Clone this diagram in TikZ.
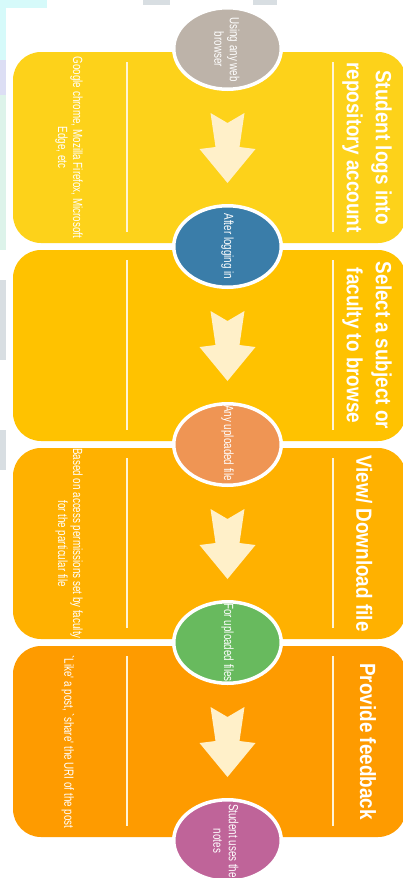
\documentclass[tikz,border=0pt]{standalone}
\usepackage{fontspec}
\setmainfont{Liberation Sans}
\newfontfamily\titlefont[FakeStretch=0.86]{Liberation Sans}
\newfontfamily\smallfont[FakeStretch=0.74]{Liberation Sans}
\usetikzlibrary{shapes.geometric}
\definecolor{boxA}{HTML}{FDD21A}
\definecolor{boxB}{HTML}{FFC200}
\definecolor{boxC}{HTML}{FFB100}
\definecolor{boxD}{HTML}{FE9B00}
\definecolor{cirA}{HTML}{BDB3A9}
\definecolor{cirB}{HTML}{3A7DA9}
\definecolor{cirC}{HTML}{EF9554}
\definecolor{cirD}{HTML}{68BA5E}
\definecolor{cirE}{HTML}{BF6499}
\definecolor{arrowcol}{HTML}{FFF0C9}
\definecolor{linecol}{HTML}{FFF4D6}
\definecolor{cyanbg}{HTML}{D6FAFA}
\definecolor{lavbg}{HTML}{DCDEF4}
\definecolor{greenbg}{HTML}{DDF3EA}
\definecolor{greybg}{HTML}{D8DEE2}
\tikzset{
  stepbox/.style={rectangle, rounded corners=28pt, minimum width=393pt, minimum height=191pt, inner sep=0pt, draw=none},
  bubble/.style={ellipse, draw=white, line width=3.5pt, minimum width=107.5pt, minimum height=81.5pt, inner sep=0pt},
  titletext/.style={text=white, rotate=-90, align=center, inner sep=0pt, font=\titlefont\bfseries\fontsize{22}{29}\selectfont},
  desctext/.style={text=white, rotate=-90, align=center, inner sep=0pt, font=\smallfont\fontsize{13.3}{15}\selectfont},
  bubbletext/.style={text=white, rotate=-90, align=center, inner sep=0pt, font=\smallfont\fontsize{13.3}{15.5}\selectfont},
  divline/.style={draw=linecol, line width=1.5pt},
  chevron/.style={fill=arrowcol, draw=none}
}
\begin{document}
\begin{tikzpicture}[x=1pt, y=-1pt]
\useasboundingbox (0,0) rectangle (403,878);
% background
\fill[white] (0,0) rectangle (403,878);
\fill[cyanbg] (0,0) rectangle (47,8);
\fill[cyanbg] (0,0) rectangle (6,60);
\fill[lavbg] (0,60) rectangle (6,95);
\fill[greenbg] (0,95) rectangle (6,250);
\fill[greybg] (0,280) rectangle (6,360);
\fill[greybg] (0,430) rectangle (6,470);
\fill[greybg] (143,0) rectangle (170,5);
\fill[greybg] (253,0) rectangle (277,5);
% boxes
\node[stepbox, fill=boxA] (b1) at (209.5,147.5) {};
\node[stepbox, fill=boxB] (b2) at (209.5,345.5) {};
\node[stepbox, fill=boxC] (b3) at (209.5,543.5) {};
\node[stepbox, fill=boxD] (b4) at (209.5,741.5) {};
% divider lines and arrows
\foreach \T in {52,250,448,646}{
  \draw[divline] (127,{\T+10}) -- (127,{\T+180});
  \draw[divline] (333,{\T+10}) -- (333,{\T+180});
  \fill[chevron] (210.5,{\T+61}) -- (227.5,{\T+71}) -- (244.5,{\T+61}) -- (239.5,{\T+95}) -- (255.5,{\T+97}) -- (227.5,{\T+131}) -- (199.5,{\T+97}) -- (215.5,{\T+95}) -- cycle;
}
% bubbles
\node[bubble, fill=cirA] (c1) at (227.5,48.5) {};
\node[bubble, fill=cirB] (c2) at (227.5,246.5) {};
\node[bubble, fill=cirC] (c3) at (227.5,444.5) {};
\node[bubble, fill=cirD] (c4) at (227.5,642.5) {};
\node[bubble, fill=cirE] (c5) at (227.5,840.5) {};
% bubble texts
\node[bubbletext] (c1t) at (227,49.5) {Using any web\\browser};
\node[bubbletext] (c2t) at (227.5,246.5) {After logging in};
\node[bubbletext] (c3t) at (227.5,443) {Any uploaded file};
\node[bubbletext] (c4t) at (227.5,642.5) {For uploaded files};
\node[bubbletext] (c5t) at (226,841) {Student uses the\\notes};
% titles
\node[titletext] (t1) at (367,147.5) {Student logs into\\repository account};
\node[titletext] (t2) at (367,345.5) {Select a subject or\\faculty to browse};
\node[titletext] (t3) at (364,543.5) {View/ Download file};
\node[titletext] (t4) at (368,741.5) {Provide feedback};
% descriptions
\node[desctext] (d1) at (69,147.5) {Google chrome, Mozilla Firefox, Microsoft\\Edge, etc};
\node[desctext] (d3) at (69,543.5) {Based on access permissions set by faculty\\for the particular file};
\node[desctext] (d4) at (68,742) {`Like' a post, `share' the URI of the post};
\end{tikzpicture}
\end{document}
